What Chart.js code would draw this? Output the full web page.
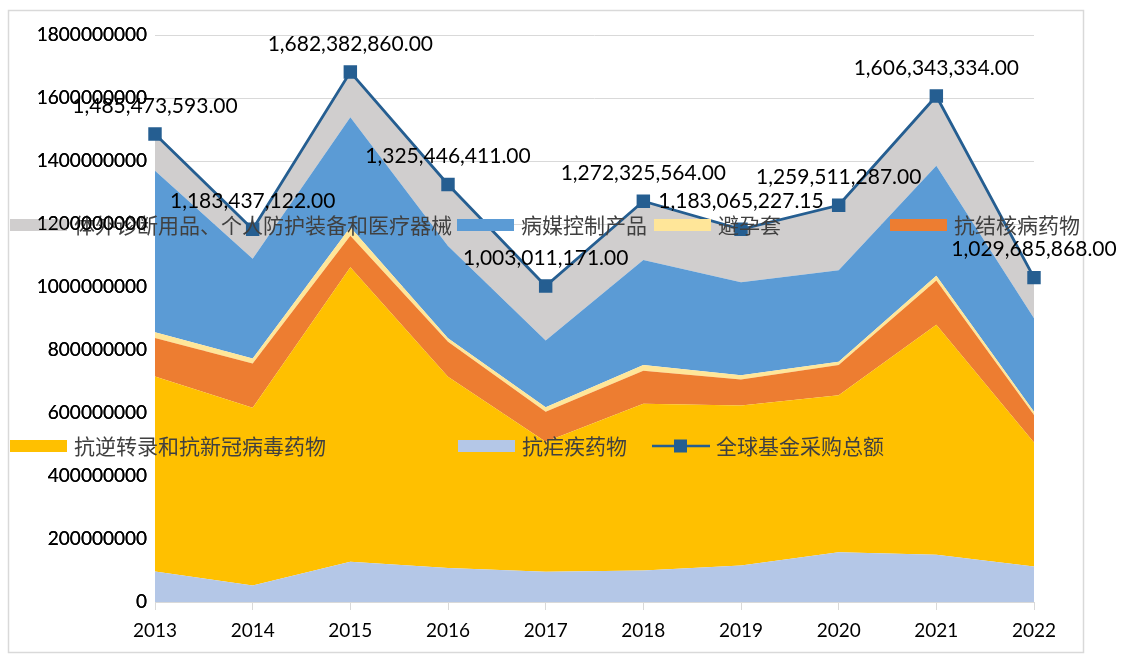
<!DOCTYPE html>
<html>
<head>
<meta charset="utf-8">
<script src="https://cdn.jsdelivr.net/npm/chart.js@4/dist/chart.umd.min.js"></script>
<style>
  html, body { margin: 0; padding: 0; background: #fff; }
  #wrap { position: relative; width: 1127px; height: 655px; }
</style>
</head>
<body>
<div id="wrap"><canvas id="chart" width="1127" height="655"></canvas></div>
<script>
// Jahre / Kategorien
const years = ['2013', '2014', '2015', '2016', '2017', '2018', '2019', '2020', '2021', '2022'];

// Werte je Kategorie (USD), von unten nach oben gestapelt
const antimalarial = [97000000, 52000000, 128000000, 108000000, 96000000, 100000000, 116000000, 158000000, 150000000, 113000000];
const antiretroviral = [619000000, 565000000, 935000000, 607000000, 413000000, 529000000, 508000000, 498000000, 730000000, 393000000];
const antiTb = [122000000, 140000000, 100000000, 111000000, 95000000, 105000000, 82000000, 96000000, 141000000, 88000000];
const condoms = [18000000, 16000000, 27000000, 11000000, 14000000, 18000000, 14000000, 11000000, 15000000, 10000000];
const vectorControl = [513000000, 317000000, 349000000, 293000000, 212000000, 334000000, 295000000, 290000000, 349000000, 297000000];
const diagnostics = [116000000, 93000000, 143000000, 195000000, 173000000, 186000000, 168000000, 207000000, 221000000, 129000000];
const totals = [1485473593, 1183437122, 1682382860, 1325446411, 1003011171, 1272325564, 1183065227.15, 1259511287, 1606343334, 1029685868];

// y-Achse
const yMax = 1800000000;
const yStep = 200000000;

const names = {
    antimalarial: '抗疟疾药物',
    antiretroviral: '抗逆转录和抗新冠病毒药物',
    antiTb: '抗结核病药物',
    condoms: '避孕套',
    vectorControl: '病媒控制产品',
    diagnostics: '体外诊断用品、个人防护装备和医疗器械',
    total: '全球基金采购总额'
};

const colors = {
    antimalarial: '#b4c7e7',
    antiretroviral: '#ffc000',
    antiTb: '#ed7d31',
    condoms: '#ffe699',
    vectorControl: '#5b9bd5',
    diagnostics: '#d0cece',
    total: '#255e91'
};

function area(key, data, fill) {
    return {
        label: names[key],
        data: data,
        stack: 'areas',
        backgroundColor: colors[key],
        borderColor: colors[key],
        borderWidth: 0,
        pointRadius: 0,
        fill: fill,
        tension: 0
    };
}

// Rahmen um das Diagramm
const framePlugin = {
    id: 'frame',
    beforeDraw(chart) {
        const ctx = chart.ctx;
        ctx.save();
        ctx.fillStyle = '#fff';
        ctx.fillRect(0, 0, chart.width, chart.height);
        ctx.strokeStyle = '#d9d9d9';
        ctx.lineWidth = 1.5;
        ctx.strokeRect(8.5, 10.5, 1075, 642);
        ctx.restore();
    }
};

// Legende an festen Stellen (wie im Original über der Fläche)
const legendItems = [
    { key: 'diagnostics', x: 10, y: 225 },
    { key: 'vectorControl', x: 457, y: 225 },
    { key: 'condoms', x: 654, y: 225 },
    { key: 'antiTb', x: 890, y: 225 },
    { key: 'antiretroviral', x: 10, y: 446 },
    { key: 'antimalarial', x: 458, y: 446 },
    { key: 'total', x: 652, y: 446, line: true }
];

const legendPlugin = {
    id: 'fixedLegend',
    afterDatasetsDraw(chart) {
        const ctx = chart.ctx;
        ctx.save();
        ctx.font = '21px "Noto Sans CJK SC"';
        ctx.textBaseline = 'middle';
        ctx.textAlign = 'left';
        legendItems.forEach(function(item) {
            if (item.line) {
                ctx.strokeStyle = colors.total;
                ctx.lineWidth = 2.5;
                ctx.beginPath();
                ctx.moveTo(item.x, item.y);
                ctx.lineTo(item.x + 58, item.y);
                ctx.stroke();
                ctx.fillStyle = colors.total;
                ctx.fillRect(item.x + 22, item.y - 6.5, 13, 13);
            } else {
                ctx.fillStyle = colors[item.key];
                ctx.fillRect(item.x, item.y - 6, 57, 12);
            }
            ctx.fillStyle = '#404040';
            ctx.fillText(names[item.key], item.x + 64, item.y);
        });
        ctx.restore();
        // Achsenbeschriftung liegt im Original über der Legende
        chart.scales.y.drawLabels(chart.chartArea);
    }
};

// Beschriftung der Summenlinie
const labelPlugin = {
    id: 'totalLabels',
    afterDatasetsDraw(chart) {
        const ctx = chart.ctx;
        const idx = chart.data.datasets.findIndex(function(d) { return d.stack === 'total'; });
        const meta = chart.getDatasetMeta(idx);
        ctx.save();
        ctx.font = '21px Lato';
        ctx.fillStyle = '#000';
        ctx.textAlign = 'center';
        ctx.textBaseline = 'middle';
        meta.data.forEach(function(pt, i) {
            const txt = totals[i].toLocaleString('en-US', { minimumFractionDigits: 2, maximumFractionDigits: 2 });
            ctx.fillText(txt, pt.x, pt.y - 28);
        });
        ctx.restore();
    }
};

const config = {
    type: 'line',
    data: {
        labels: years,
        datasets: [
            area('antimalarial', antimalarial, 'origin'),
            area('antiretroviral', antiretroviral, '-1'),
            area('antiTb', antiTb, '-1'),
            area('condoms', condoms, '-1'),
            area('vectorControl', vectorControl, '-1'),
            area('diagnostics', diagnostics, '-1'),
            {
                label: names.total,
                data: totals,
                stack: 'total',
                order: -1,
                fill: false,
                borderColor: colors.total,
                backgroundColor: colors.total,
                borderWidth: 2.8,
                pointStyle: 'rect',
                pointRadius: 9.5,
                pointBorderWidth: 0,
                tension: 0
            }
        ]
    },
    options: {
        responsive: false,
        animation: false,
        layout: { padding: { top: 35, right: 93, left: 0, bottom: 0 } },
        plugins: {
            legend: { display: false },
            tooltip: { enabled: false }
        },
        scales: {
            x: {
                offset: false,
                grid: { drawOnChartArea: false, color: '#d9d9d9', tickLength: 8 },
                border: { color: '#d9d9d9' },
                ticks: { color: '#000', padding: 9, font: { family: 'Lato', size: 19 } },
                afterFit: function(s) { s.height = 53; }
            },
            y: {
                stacked: true,
                min: 0,
                max: yMax,
                grid: { color: '#d9d9d9', drawTicks: false },
                border: { display: false },
                ticks: {
                    stepSize: yStep,
                    color: '#000',
                    padding: 8,
                    font: { family: 'Lato', size: 19 },
                    callback: function(v) { return String(v); }
                },
                afterFit: function(s) { s.width = 155; }
            }
        }
    },
    plugins: [framePlugin, legendPlugin, labelPlugin]
};

var ctx = document.getElementById('chart');
var chart = new Chart(ctx, config);
</script>
</body>
</html>
